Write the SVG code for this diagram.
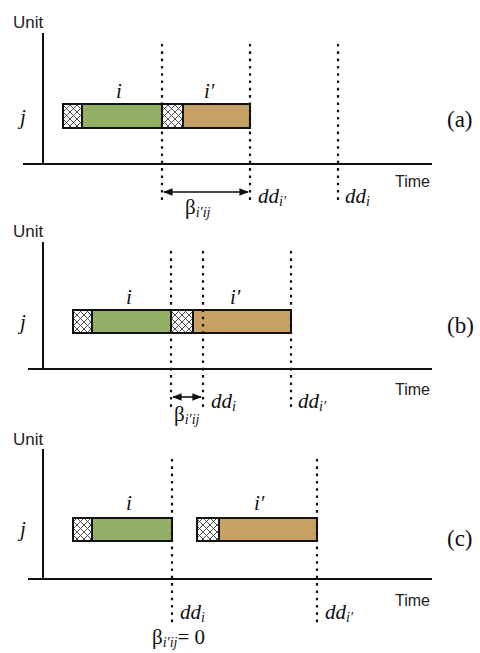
<svg xmlns="http://www.w3.org/2000/svg" width="480" height="653" viewBox="0 0 480 653">
  <defs>
    <pattern id="hatch" width="7" height="7" patternUnits="userSpaceOnUse">
      <rect width="7" height="7" fill="#ffffff"/>
      <path d="M-1,1 L1,-1 M0,7 L7,0 M6,8 L8,6 M-1,6 L1,8 M0,0 L7,7 M6,-1 L8,1" stroke="#3a3a3a" stroke-width="0.9"/>
    </pattern>
    <marker id="arr" viewBox="0 0 10 10" refX="9" refY="5" markerWidth="6" markerHeight="6" orient="auto-start-reverse">
      <path d="M0,1 L10,5 L0,9 Z" fill="#111"/>
    </marker>
    <style>
      .axis { stroke: #111; stroke-width: 2; fill: none; }
      .dot { stroke: #111; stroke-width: 2.2; stroke-dasharray: 2.6 4.7; fill: none; }
      .box { stroke: #111; stroke-width: 2; }
      .hatch { fill: url(#hatch); }
      .green { fill: #93af66; }
      .tan { fill: #c7a063; }
      .gap { stroke: #111; stroke-width: 1.6; fill: none; marker-start: url(#arr); marker-end: url(#arr); }
      .sans { font-family: Arimo, "Liberation Sans", "DejaVu Sans", sans-serif; fill: #222; }
      .ser { font-family: Tinos, "Liberation Serif", "DejaVu Serif", serif; fill: #111; }
      .it { font-style: italic; }
    </style>
  </defs>

  <!-- panel (a) -->
  <g id="panel-a">
    <text class="sans" x="13" y="28" font-size="17">Unit</text>
    <path class="axis" d="M43,33 V164 M23,164 H432"/>
    <text class="sans" x="395" y="187" font-size="16">Time</text>
    <text class="ser it" x="20" y="124" font-size="21">j</text>
    <text class="ser" x="447" y="127" font-size="23">(a)</text>
    <g id="a-job-i">
      <rect class="hatch" x="63" y="104" width="19" height="24"/>
      <rect class="green" x="82" y="104" width="80" height="24"/>
      <rect class="box" x="63" y="104" width="99" height="24" fill="none"/>
      <line class="box" x1="82" y1="104" x2="82" y2="128"/>
      <text class="ser it" x="116" y="98" font-size="21">i</text>
    </g>
    <g id="a-job-i2">
      <rect class="hatch" x="162" y="104" width="21" height="24"/>
      <rect class="tan" x="183" y="104" width="67" height="24"/>
      <rect class="box" x="162" y="104" width="88" height="24" fill="none"/>
      <line class="box" x1="183" y1="104" x2="183" y2="128"/>
      <text class="ser it" x="204" y="98" font-size="21">i′</text>
    </g>
  </g>

  <!-- panel (b) -->
  <g id="panel-b">
    <text class="sans" x="13" y="237" font-size="17">Unit</text>
    <path class="axis" d="M43,242 V369 M28,369 H432"/>
    <text class="sans" x="395" y="395" font-size="16">Time</text>
    <text class="ser it" x="20" y="329" font-size="21">j</text>
    <text class="ser" x="447" y="333" font-size="23">(b)</text>
    <g id="b-job-i">
      <rect class="hatch" x="73" y="310" width="19" height="23"/>
      <rect class="green" x="92" y="310" width="79" height="23"/>
      <rect class="box" x="73" y="310" width="98" height="23" fill="none"/>
      <line class="box" x1="92" y1="310" x2="92" y2="333"/>
      <text class="ser it" x="126" y="304" font-size="21">i</text>
    </g>
    <g id="b-job-i2">
      <rect class="hatch" x="171" y="310" width="22" height="23"/>
      <rect class="tan" x="193" y="310" width="98" height="23"/>
      <rect class="box" x="171" y="310" width="120" height="23" fill="none"/>
      <line class="box" x1="193" y1="310" x2="193" y2="333"/>
      <text class="ser it" x="230" y="304" font-size="21">i′</text>
    </g>
  </g>

  <!-- panel (c) -->
  <g id="panel-c">
    <text class="sans" x="13" y="445" font-size="17">Unit</text>
    <path class="axis" d="M43,449 V579 M28,579 H432"/>
    <text class="sans" x="395" y="606" font-size="16">Time</text>
    <text class="ser it" x="20" y="536" font-size="21">j</text>
    <text class="ser" x="447" y="546" font-size="23">(c)</text>
    <g id="c-job-i">
      <rect class="hatch" x="73" y="518" width="19" height="23"/>
      <rect class="green" x="92" y="518" width="80" height="23"/>
      <rect class="box" x="73" y="518" width="99" height="23" fill="none"/>
      <line class="box" x1="92" y1="518" x2="92" y2="541"/>
      <text class="ser it" x="126" y="510" font-size="21">i</text>
    </g>
    <g id="c-job-i2">
      <rect class="hatch" x="197" y="518" width="22" height="23"/>
      <rect class="tan" x="219" y="518" width="98" height="23"/>
      <rect class="box" x="197" y="518" width="120" height="23" fill="none"/>
      <line class="box" x1="219" y1="518" x2="219" y2="541"/>
      <text class="ser it" x="254" y="510" font-size="21">i′</text>
    </g>
  </g>

  <!-- due-date markers and gap arrows -->
  <g id="connectors">
    <path class="dot" d="M162,44 V204 M250,44 V204 M338,44 V204"/>
    <line class="gap" x1="164" y1="192" x2="248" y2="192"/>
    <path class="dot" d="M171,251 V409 M203,251 V409 M291,251 V409"/>
    <line class="gap" x1="173" y1="397" x2="201" y2="397"/>
    <path class="dot" d="M172,459 V623 M317,459 V623"/>
  </g>

  <!-- due dates and gap labels -->
  <g id="labels" class="ser">
    <text class="it" x="258" y="203" font-size="21">dd<tspan font-size="14" dy="3">i′</tspan></text>
    <text class="it" x="345" y="203" font-size="21">dd<tspan font-size="14" dy="3">i</tspan></text>
    <text x="185" y="214" font-size="21">β<tspan class="it" font-size="14" dy="3">i′ij</tspan></text>

    <text class="it" x="211" y="408" font-size="21">dd<tspan font-size="14" dy="3">i</tspan></text>
    <text class="it" x="298" y="408" font-size="21">dd<tspan font-size="14" dy="3">i′</tspan></text>
    <text x="174" y="421" font-size="21">β<tspan class="it" font-size="14" dy="3">i′ij</tspan></text>

    <text class="it" x="180" y="619" font-size="21">dd<tspan font-size="14" dy="3">i</tspan></text>
    <text class="it" x="325" y="619" font-size="21">dd<tspan font-size="14" dy="3">i′</tspan></text>
    <text x="152" y="644" font-size="21">β<tspan class="it" font-size="14" dy="3">i′ij</tspan><tspan dy="-3">= 0</tspan></text>
  </g>
</svg>
